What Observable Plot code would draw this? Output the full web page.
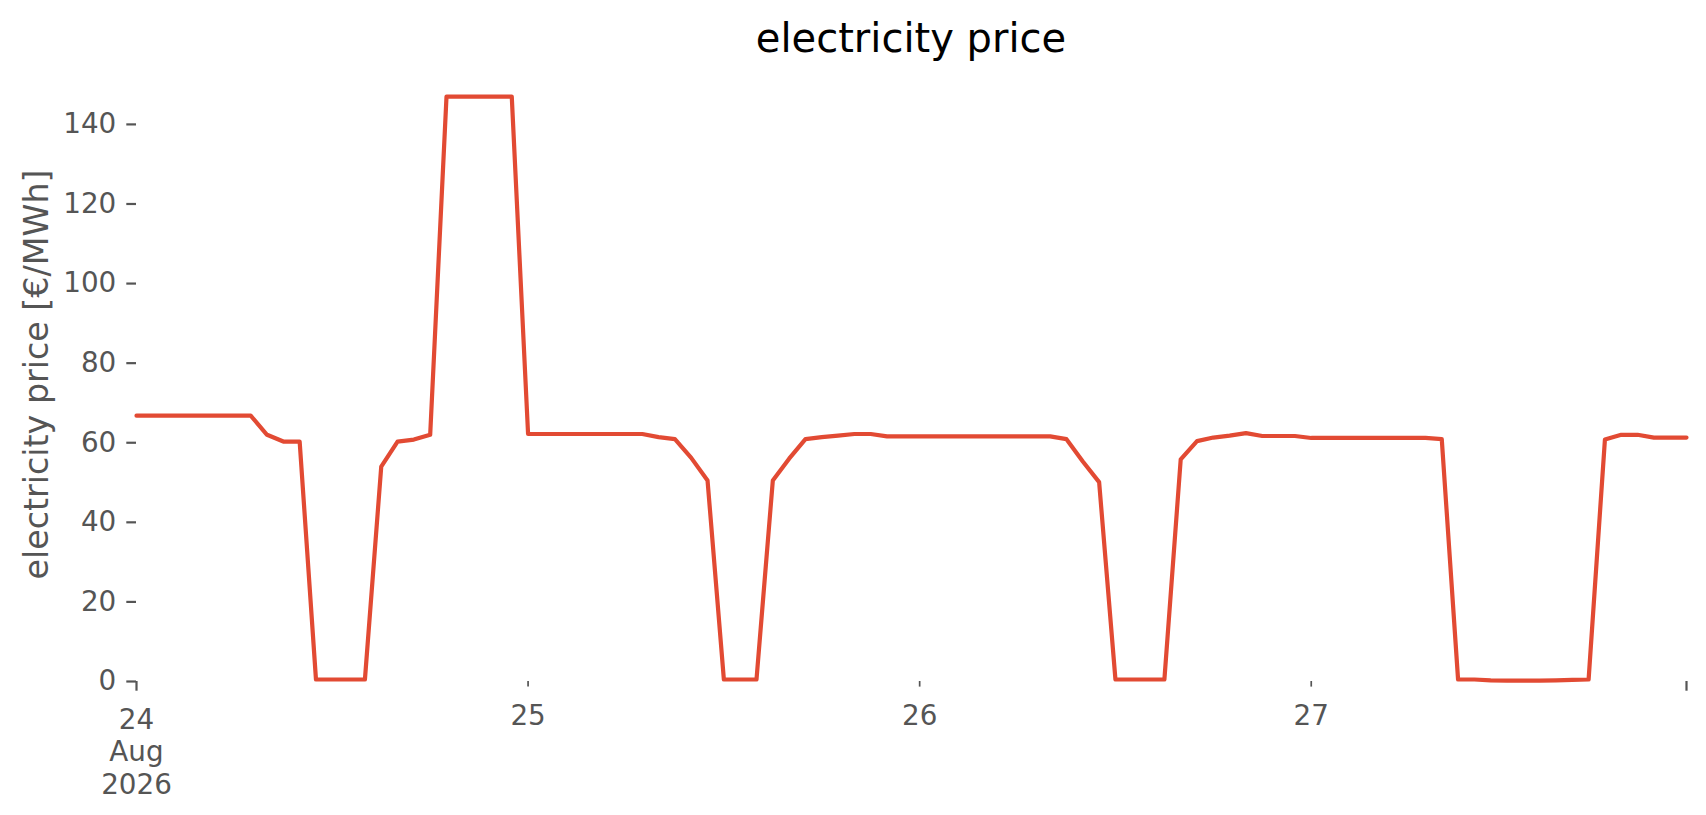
<!DOCTYPE html>
<html>
<head>
<meta charset="utf-8">
<script src="https://cdn.jsdelivr.net/npm/d3@7"></script>
<script src="https://cdn.jsdelivr.net/npm/@observablehq/plot@0.6"></script>
<style>
  body { margin: 0; background: #fff; font-family: "DejaVu Sans", sans-serif; }
  #title { box-sizing: border-box; height: 67px; padding-top: 18px; margin-left: 136px; width: 1550px;
           text-align: center; font-size: 40px; line-height: 40px; color: #000; white-space: nowrap; }
</style>
</head>
<body>
<div id="title">electricity price</div>
<div id="chart"></div>
<script>
// hourly prices [€/MWh], 24 Aug 2026 00:00 .. 27 Aug 2026 23:00
const day24 = [66.8, 66.8, 66.8, 66.8, 66.8, 66.8, 66.8, 66.8, 62.0, 60.3, 60.3, 0.5,
               0.5, 0.5, 0.5, 54.0, 60.3, 60.8, 62.0, 147.0, 147.0, 147.0, 147.0, 147.0];
const day25 = [62.2, 62.2, 62.2, 62.2, 62.2, 62.2, 62.2, 62.2, 61.4, 60.9, 56.2, 50.5,
               0.5, 0.5, 0.5, 50.5, 56.0, 60.9, 61.4, 61.8, 62.2, 62.2, 61.6, 61.6];
const day26 = [61.6, 61.6, 61.6, 61.6, 61.6, 61.6, 61.6, 61.6, 61.6, 60.9, 55.3, 50.1,
               0.5, 0.5, 0.5, 0.5, 55.8, 60.4, 61.3, 61.8, 62.4, 61.7, 61.7, 61.7];
const day27 = [61.2, 61.2, 61.2, 61.2, 61.2, 61.2, 61.2, 61.2, 60.9, 0.5, 0.5, 0.3,
               0.2, 0.2, 0.2, 0.3, 0.4, 0.5, 60.8, 62.0, 62.0, 61.3, 61.3, 61.3];
const prices = [...day24, ...day25, ...day26, ...day27];

const startUTC = Date.UTC(2026, 7, 24, 0);
const HOUR = 3600e3;

const yTicks = [0, 20, 40, 60, 80, 100, 120, 140];
const xMajorTicks = [new Date(Date.UTC(2026, 7, 24, 0)), new Date(Date.UTC(2026, 7, 27, 23))];
const xMinorTicks = [new Date(Date.UTC(2026, 7, 25)), new Date(Date.UTC(2026, 7, 26)), new Date(Date.UTC(2026, 7, 27))];
const xMajorLabels = ["24\nAug\n2026"];
const xMinorLabels = ["25", "26", "27"];
const yLabel = "electricity price [€/MWh]";

const data = prices.map((p, i) => ({date: new Date(startUTC + i * HOUR), price: p}));
const majorLabelData = xMajorLabels.map((t, i) => ({date: xMajorTicks[i], text: t}));
const minorLabelData = xMinorLabels.map((t, i) => ({date: xMinorTicks[i], text: t}));

const grey = "#555555";
const chart = Plot.plot({
  width: 1706,
  height: 748,
  marginTop: 0,
  marginBottom: 134,
  marginLeft: 136,
  marginRight: 20,
  style: {fontFamily: "DejaVu Sans", fontSize: "27.8px", background: "#fff", color: grey, overflow: "visible"},
  x: {type: "utc", domain: [data[0].date, data[data.length - 1].date]},
  y: {domain: [0, 154.3]},
  marks: [
    Plot.axisY({ticks: yTicks, tickSize: 9.7, tickPadding: 10.5, stroke: grey, fill: grey, strokeWidth: 2.2, strokeOpacity: 1, label: null}),
    Plot.axisX({ticks: xMajorTicks, tickSize: 9.7, tickFormat: () => "", stroke: grey, strokeWidth: 2.2, strokeOpacity: 1, label: null}),
    Plot.axisX({ticks: xMinorTicks, tickSize: 5.6, tickFormat: () => "", stroke: grey, strokeWidth: 1.7, strokeOpacity: 1, label: null}),
    Plot.text(majorLabelData, {x: "date", text: "text", frameAnchor: "bottom", dy: 24, lineAnchor: "top", lineHeight: 1.17, fill: grey, fontSize: 27.8}),
    Plot.text(minorLabelData, {x: "date", text: "text", frameAnchor: "bottom", dy: 20, lineAnchor: "top", lineHeight: 1.17, fill: grey, fontSize: 27.8}),
    Plot.text([yLabel], {frameAnchor: "left", dx: -99, rotate: -90, textAnchor: "middle", lineAnchor: "middle", fill: grey, fontSize: 33.3}),
    Plot.lineY(data, {x: "date", y: "price", stroke: "#E24A33", strokeWidth: 4.2, strokeLinejoin: "round"})
  ]
});
document.getElementById("chart").appendChild(chart);
</script>
</body>
</html>
